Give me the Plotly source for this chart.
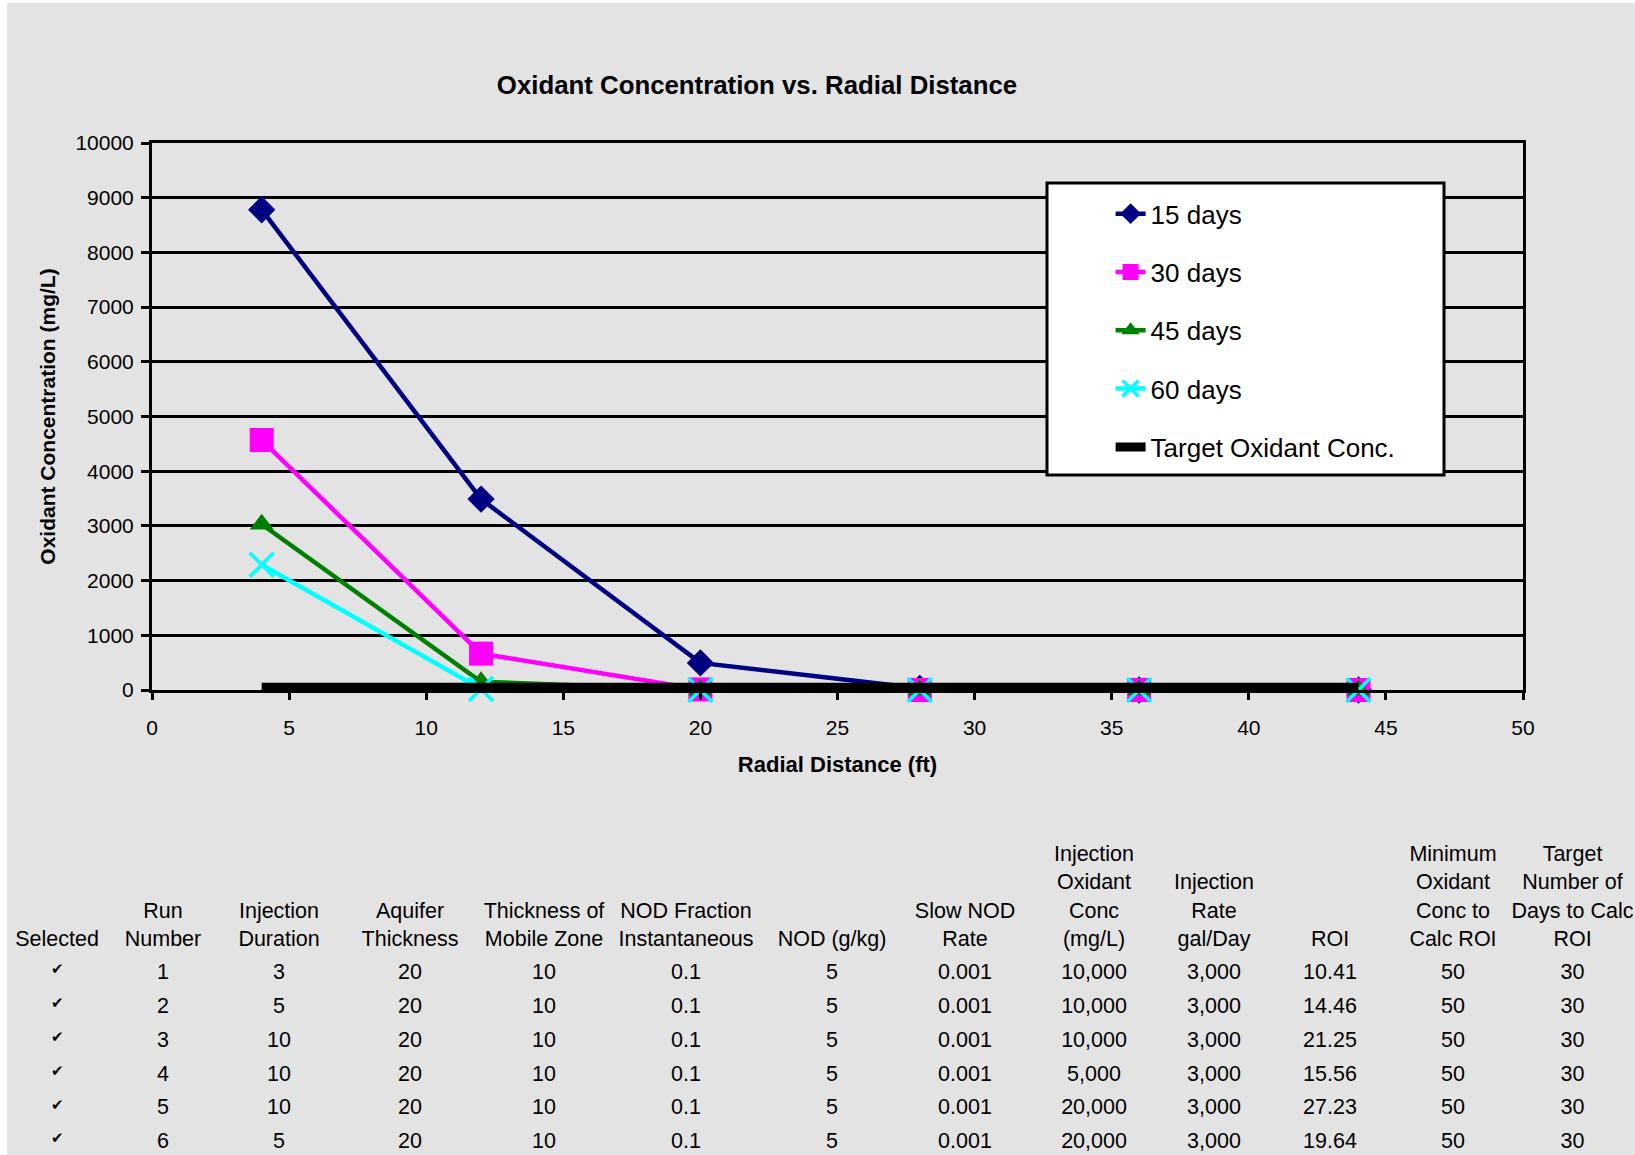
import plotly.graph_objects as go

# ---------------- data ----------------
distance_ft = [4, 12, 20, 28, 36, 44]
conc_15_days = [8780, 3490, 495, 30, 0, 0]
conc_30_days = [4570, 665, 10, 0, 0, 0]
conc_45_days = [3030, 150, 0, 0, 0, 0]
conc_60_days = [2290, 20, 0, 0, 0, 0]
target_conc = [50, 50, 50, 50, 50, 50]

series_names = ["15 days", "30 days", "45 days", "60 days", "Target Oxidant Conc."]

table_headers = [
    ["Selected"],
    ["Run", "Number"],
    ["Injection", "Duration"],
    ["Aquifer", "Thickness"],
    ["Thickness of", "Mobile Zone"],
    ["NOD Fraction", "Instantaneous"],
    ["NOD (g/kg)"],
    ["Slow NOD", "Rate"],
    ["Injection", "Oxidant", "Conc", "(mg/L)"],
    ["Injection", "Rate", "gal/Day"],
    ["ROI"],
    ["Minimum", "Oxidant", "Conc to", "Calc ROI"],
    ["Target", "Number of", "Days to Calc", "ROI"],
]
col_selected = ["✔", "✔", "✔", "✔", "✔", "✔"]
col_run = ["1", "2", "3", "4", "5", "6"]
col_inj_duration = ["3", "5", "10", "10", "10", "5"]
col_aquifer = ["20", "20", "20", "20", "20", "20"]
col_mobile = ["10", "10", "10", "10", "10", "10"]
col_nod_frac = ["0.1", "0.1", "0.1", "0.1", "0.1", "0.1"]
col_nod = ["5", "5", "5", "5", "5", "5"]
col_slow_nod = ["0.001", "0.001", "0.001", "0.001", "0.001", "0.001"]
col_inj_conc = ["10,000", "10,000", "10,000", "5,000", "20,000", "20,000"]
col_inj_rate = ["3,000", "3,000", "3,000", "3,000", "3,000", "3,000"]
col_roi = ["10.41", "14.46", "21.25", "15.56", "27.23", "19.64"]
col_min_conc = ["50", "50", "50", "50", "50", "50"]
col_target_days = ["30", "30", "30", "30", "30", "30"]

table_columns = [col_selected, col_run, col_inj_duration, col_aquifer, col_mobile,
                 col_nod_frac, col_nod, col_slow_nod, col_inj_conc, col_inj_rate,
                 col_roi, col_min_conc, col_target_days]

# ---------------- style ----------------
FONT = "Liberation Sans, Arial, sans-serif"
BG = "#e3e3e3"
W, H = 1635, 1155
transparent = "rgba(0,0,0,0)"


def px(x):  # window x -> paper x
    return x / W


def py(y):  # window y -> paper y
    return 1 - y / H


styles = [
    dict(color="#000080", symbol="diamond", size=21),
    dict(color="#ff00ff", symbol="square", size=24),
    dict(color="#008000", symbol="triangle-up", size=21),
    dict(color="#00ffff", symbol="x-thin", size=24),
]

fig = go.Figure()
series = [conc_15_days, conc_30_days, conc_45_days, conc_60_days]
for i, (vals, st) in enumerate(zip(series, styles)):
    marker = dict(symbol=st["symbol"], size=st["size"], color=st["color"])
    if st["symbol"] == "x-thin":
        marker["line"] = dict(width=3.5, color=st["color"])
    else:
        marker["line"] = dict(width=0)
    fig.add_trace(go.Scatter(
        x=distance_ft, y=vals, name=series_names[i], mode="lines+markers",
        line=dict(color=st["color"], width=4.5), marker=marker,
        legendgroup=f"g{i}", cliponaxis=False,
    ))
fig.add_trace(go.Scatter(
    x=distance_ft, y=target_conc, name=series_names[4], mode="lines",
    line=dict(color="black", width=9), legendgroup="g4",
))

# ---------------- table (header block + data block) ----------------
TFS = 21.5
NBSP = "\u00a0"
max_lines = max(len(h) for h in table_headers)
header_lines = [[NBSP] * (max_lines - len(h)) + [s.replace(" ", NBSP) for s in h]
                for h in table_headers]
col_widths = [114, 98, 134, 128, 140, 144, 148, 118, 140, 100, 132, 114, 125]

hdr_top, hdr_row = 836.7, 28.5
fig.add_trace(go.Table(
    domain=dict(x=[0, 1], y=[py(952), py(hdr_top)]),
    columnwidth=col_widths,
    header=dict(values=[h[0] for h in header_lines], align="center", height=hdr_row,
                fill=dict(color=transparent), line=dict(width=0, color=transparent),
                font=dict(family=FONT, size=TFS, color="black")),
    cells=dict(values=[h[1:] for h in header_lines], align="center", height=hdr_row,
               fill=dict(color=transparent), line=dict(width=0, color=transparent),
               font=dict(family=FONT, size=TFS, color="black")),
))

data_top, data_row = 954.7, 33.9
data_sizes = [15] + [TFS] * 12
fig.add_trace(go.Table(
    domain=dict(x=[0, 1], y=[0, py(data_top)]),
    columnwidth=col_widths,
    header=dict(values=[c[0] for c in table_columns], align="center", height=data_row,
                fill=dict(color=transparent), line=dict(width=0, color=transparent),
                font=dict(family=FONT, size=data_sizes, color="black")),
    cells=dict(values=[c[1:] for c in table_columns], align="center", height=data_row,
               fill=dict(color=transparent), line=dict(width=0, color=transparent),
               font=dict(family=FONT, size=data_sizes, color="black")),
))

fig.update_layout(
    width=W, height=H,
    margin=dict(l=0, r=0, t=0, b=0, pad=0, autoexpand=False),
    paper_bgcolor="white",
    plot_bgcolor=BG,
    font=dict(family=FONT, color="black"),
    title=dict(text="Oxidant Concentration vs. Radial Distance",
               x=px(757), xanchor="center", xref="paper",
               y=py(85), yanchor="middle", yref="paper", automargin=False,
               font=dict(family=FONT, size=25.8, color="black", weight="bold")),
    xaxis=dict(domain=[px(152), px(1523)], range=[0, 50], dtick=5, tick0=0,
               automargin=False,
               showgrid=False, zeroline=False,
               showline=True, linecolor="black", linewidth=3, mirror=True,
               ticks="outside", ticklen=7, tickwidth=3, tickcolor="black",
               tickfont=dict(size=21, color="black"), ticklabelstandoff=10,
               title=dict(text="Radial Distance (ft)", standoff=19,
                          font=dict(size=22, color="black", weight="bold"))),
    yaxis=dict(domain=[py(690), py(143)], range=[0, 10000], dtick=1000, tick0=0,
               tickformat="d", automargin=False,
               showgrid=True, gridcolor="black", gridwidth=3, zeroline=False,
               showline=True, linecolor="black", linewidth=3, mirror=True,
               ticks="outside", ticklen=8, tickwidth=3, tickcolor="black",
               tickfont=dict(size=21, color="black"), ticklabelstandoff=3,
               title=dict(text="Oxidant Concentration (mg/L)", standoff=15,
                          font=dict(size=21, color="black", weight="bold"))),
    showlegend=True,
    legend=dict(x=px(1110.6), xanchor="left", y=py(190.3), yanchor="top",
                bgcolor=transparent, borderwidth=0,
                font=dict(family=FONT, size=26, color="black"),
                tracegroupgap=21.5, itemsizing="trace"),
    shapes=[
        dict(type="rect", xref="paper", yref="paper", x0=px(7), x1=1, y0=0, y1=py(3),
             fillcolor=BG, line=dict(width=0), layer="below"),
        dict(type="rect", xref="paper", yref="paper", x0=px(1047), x1=px(1444),
             y0=py(475), y1=py(183),
             fillcolor="white", line=dict(width=3, color="black"), layer="above"),
    ],
)

fig.write_html(
    "out.html",
    config={"displayModeBar": False},
    post_script="document.body.style.margin='0';document.body.style.overflow='hidden';",
)
